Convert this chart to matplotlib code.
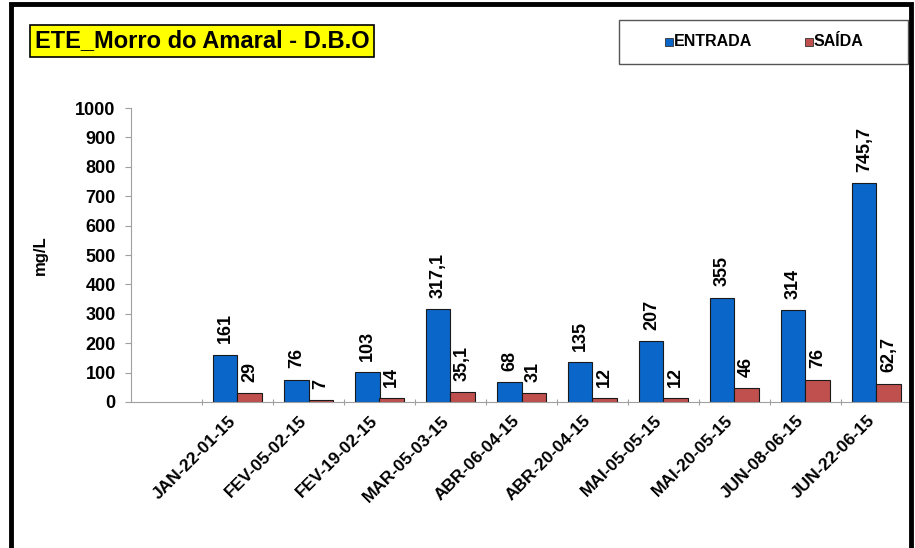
import matplotlib

matplotlib.use("Agg")
import matplotlib.pyplot as plt
from matplotlib.patches import Rectangle

plt.rcParams["font.family"] = ["Liberation Sans", "DejaVu Sans"]
plt.rcParams["font.weight"] = "bold"

categories = ["", "JAN-22-01-15", "FEV-05-02-15", "FEV-19-02-15", "MAR-05-03-15",
              "ABR-06-04-15", "ABR-20-04-15", "MAI-05-05-15", "MAI-20-05-15",
              "JUN-08-06-15", "JUN-22-06-15"]
entrada = [None, 161, 76, 103, 317.1, 68, 135, 207, 355, 314, 745.7]
saida = [None, 29, 7, 14, 35.1, 31, 12, 12, 46, 76, 62.7]
y_ticks = [0, 100, 200, 300, 400, 500, 600, 700, 800, 900, 1000]

blue = "#0a66c8"
red = "#c0504d"
W, H = 915, 548


def fmt(v: float) -> str:
    s = f"{v:g}"
    return s.replace(".", ",")


def fx(px: float) -> float:
    return px / W


def fy(py: float) -> float:
    return 1 - py / H


fig = plt.figure(figsize=(W / 100, H / 100), dpi=100)
ax = fig.add_axes([131 / W, 146 / H, 781 / W, 294 / H])

w = 0.34
for i, (e, s) in enumerate(zip(entrada, saida)):
    if e is None:
        continue
    ax.bar(i - w / 2, e, width=w, color=blue, edgecolor="#1a1a1a", linewidth=0.8)
    ax.bar(i + w / 2, s, width=w, color=red, edgecolor="#1a1a1a", linewidth=0.8)
    ax.text(i - w / 2, e + 38, fmt(e), rotation=90, ha="center", va="bottom",
            fontsize=13, fontweight="bold")
    ax.text(i + w / 2, s + 38, fmt(s), rotation=90, ha="center", va="bottom",
            fontsize=13, fontweight="bold")

ax.set_xlim(-0.5, len(categories) - 0.5)
ax.set_ylim(0, 1000)
ax.set_yticks(y_ticks)
ax.set_yticklabels([str(t) for t in y_ticks], fontsize=13, fontweight="bold")
# slot boundaries carry the tick marks, labels sit slightly left of the slot centre
ax.set_xticks([i + 0.5 for i in range(len(categories) - 1)], minor=False)
ax.set_xticklabels([])
ax.set_xticks([i - 0.13 for i in range(len(categories))], minor=True)
ax.set_xticklabels(categories, minor=True, rotation=45, ha="right",
                   rotation_mode="anchor", fontsize=12.5, fontweight="bold")
ax.tick_params(axis="x", which="minor", length=0, pad=8)
ax.tick_params(axis="x", which="major", length=5, color="#a0a0a0", direction="inout")
ax.tick_params(axis="y", length=4, color="#a0a0a0", direction="out", pad=7)
for side in ["top", "right"]:
    ax.spines[side].set_visible(False)
ax.spines["left"].set_color("#a0a0a0")
ax.spines["bottom"].set_color("#a0a0a0")
ax.set_ylabel("mg/L", fontsize=12, fontweight="bold", labelpad=20)

# title box
fig.text(fx(35), fy(41), "ETE_Morro do Amaral - D.B.O", fontsize=17,
         fontweight="bold", va="center", ha="left",
         bbox=dict(boxstyle="square,pad=0.2", facecolor="#ffff00", edgecolor="black", linewidth=1.2))

# legend, drawn by hand to match the wide box
fig.patches.append(Rectangle((fx(619), fy(64)), fx(908) - fx(619), fy(20) - fy(64),
                             transform=fig.transFigure, facecolor="white",
                             edgecolor="#555555", linewidth=1.0))
for x0, color, label in [(665, blue, "ENTRADA"), (805, red, "SAÍDA")]:
    fig.patches.append(Rectangle((fx(x0), fy(46)), fx(8), 8 / H,
                                 transform=fig.transFigure, facecolor=color,
                                 edgecolor="#333333", linewidth=0.6))
    fig.text(fx(x0 + 9), fy(42), label, fontsize=11.5, fontweight="bold",
             ha="left", va="center")

# outer frame
fig.patches.append(Rectangle((fx(11), -0.05), fx(900), 1.05 - 4 / H,
                             transform=fig.transFigure, fill=False,
                             edgecolor="black", linewidth=3.5))

fig.savefig("out.png", dpi=100)
